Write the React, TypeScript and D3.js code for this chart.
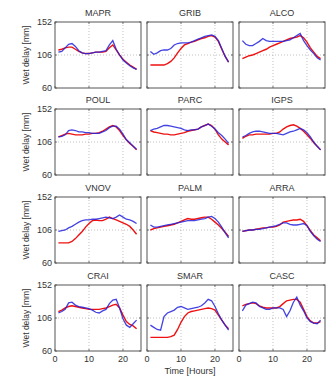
import React from "react";
import * as d3 from "d3";

const hours = d3.range(1, 25);
const stations = ["MAPR", "GRIB", "ALCO", "POUL", "PARC", "IGPS", "VNOV", "PALM", "ARRA", "CRAI", "SMAR", "CASC"];

// blue = first series, red = second series (mm), hourly 1..24
const blueSeries = [
  [110, 111, 116, 121, 122, 118, 112, 109, 108, 108, 109, 110, 110, 111, 112, 120, 126, 114, 106, 99, 95, 91, 88, 86],
  [111, 107, 109, 112, 113, 113, 115, 120, 122, 123, 123, 123, 124, 126, 128, 130, 132, 133, 134, 132, 126, 115, 104, 96],
  [126, 121, 119, 119, 122, 125, 129, 126, 125, 125, 125, 125, 125, 126, 127, 130, 133, 136, 126, 119, 113, 108, 102, 99],
  [113, 114, 116, 122, 123, 122, 120, 120, 119, 119, 118, 118, 118, 120, 122, 126, 128, 128, 124, 117, 109, 105, 100, 96],
  [122, 124, 125, 127, 129, 129, 128, 127, 126, 125, 123, 122, 123, 123, 124, 127, 129, 131, 128, 124, 119, 115, 110, 104],
  [113, 115, 118, 120, 121, 121, 120, 119, 118, 118, 118, 117, 116, 118, 120, 121, 123, 125, 123, 119, 113, 106, 100, 95],
  [104, 105, 106, 109, 111, 114, 117, 119, 120, 120, 121, 121, 122, 123, 124, 123, 122, 124, 127, 124, 121, 120, 118, 115],
  [113, 110, 110, 111, 112, 113, 114, 115, 116, 117, 118, 119, 119, 119, 120, 121, 122, 124, 125, 122, 117, 110, 102, 95],
  [104, 105, 106, 106, 107, 107, 108, 109, 110, 111, 112, 114, 116, 116, 114, 113, 113, 114, 115, 112, 104, 98, 93, 90],
  [113, 115, 118, 127, 128, 124, 122, 121, 120, 119, 117, 114, 113, 116, 118, 126, 131, 132, 120, 105, 96, 93, 98, 103],
  [96, 93, 90, 89, 108, 113, 115, 117, 121, 122, 120, 118, 119, 120, 121, 123, 127, 132, 130, 122, 112, 103, 96, 89],
  [116, 124, 126, 128, 127, 122, 120, 118, 118, 120, 120, 120, 118, 108, 116, 128, 135, 124, 116, 106, 101, 99, 98, 103],
];

const redSeries = [
  [113, 114, 116, 117, 117, 114, 111, 109, 108, 108, 109, 110, 110, 110, 111, 116, 120, 113, 106, 100, 96, 92, 89, 86],
  [92, 92, 92, 92, 92, 94, 97, 102, 109, 115, 120, 122, 124, 125, 127, 129, 130, 132, 133, 131, 125, 114, 104, 96],
  [101, 103, 105, 106, 108, 110, 112, 114, 117, 119, 121, 123, 125, 127, 129, 130, 131, 133, 130, 124, 116, 110, 104, 101],
  [113, 115, 117, 118, 117, 116, 116, 116, 117, 117, 118, 118, 119, 121, 124, 127, 129, 127, 122, 115, 109, 104, 100, 95],
  [122, 120, 119, 118, 117, 117, 116, 116, 117, 118, 119, 121, 122, 123, 124, 127, 129, 131, 129, 124, 116, 110, 106, 102],
  [111, 114, 116, 116, 117, 117, 117, 117, 117, 118, 118, 120, 124, 127, 129, 130, 128, 125, 121, 116, 111, 105, 100, 95],
  [88, 88, 88, 88, 90, 94, 99, 104, 110, 115, 119, 120, 119, 119, 121, 124, 122, 120, 118, 116, 114, 111, 106, 100],
  [106, 108, 109, 110, 111, 112, 113, 114, 116, 118, 120, 122, 121, 121, 122, 123, 124, 124, 121, 117, 113, 108, 103, 97],
  [104, 105, 106, 106, 107, 108, 109, 109, 110, 110, 111, 113, 117, 118, 119, 120, 120, 121, 118, 112, 105, 99, 95, 91],
  [115, 117, 120, 122, 123, 122, 121, 120, 119, 118, 118, 118, 118, 119, 120, 122, 124, 125, 120, 110, 101, 97, 95, 91],
  [79, 79, 79, 79, 79, 79, 80, 82, 90, 100, 108, 113, 115, 116, 117, 118, 119, 120, 119, 117, 110, 103, 96, 91],
  [123, 125, 126, 127, 126, 123, 121, 120, 120, 120, 120, 122, 126, 130, 131, 132, 132, 128, 118, 108, 102, 99, 99, 101],
];

const yTicks = [60, 106, 152];
const xTicks = [0, 10, 20];

const colLeft = [55, 147, 239];
const rowTop = [22, 109, 197, 285];
const pw = 86;
const ph = 66;
const font = "Arial, 'Liberation Sans', sans-serif";
const textColor = "#333";

export default function App() {
  const x = d3.scaleLinear().domain([0, 25.3]).range([0, pw]);
  const y = d3.scaleLinear().domain([60, 152]).range([ph, 0]);
  const line = d3
    .line<number>()
    .x((_, i) => x(hours[i]))
    .y((d) => y(d));

  return (
    <svg width={331} height={381} style={{ position: "absolute", left: 0, top: 0, background: "#fff" }}>
      {stations.map((name, k) => {
        const c = k % 3;
        const r = Math.floor(k / 3);
        const tx = colLeft[c];
        const ty = rowTop[r];
        return (
          <g key={name} transform={`translate(${tx},${ty})`}>
            <rect x={0} y={0} width={pw} height={ph} fill="#fff" />
            {xTicks.slice(1).map((t) => (
              <line key={t} x1={x(t)} x2={x(t)} y1={0} y2={ph} stroke="#999" strokeWidth={0.6} strokeDasharray="1,2" />
            ))}
            <line x1={0} x2={pw} y1={y(106)} y2={y(106)} stroke="#999" strokeWidth={0.6} strokeDasharray="1,2" />
            <path d={line(redSeries[k]) || ""} fill="none" stroke="#ee1111" strokeWidth={1.4} />
            <path d={line(blueSeries[k]) || ""} fill="none" stroke="#2222dd" strokeWidth={1.3} strokeOpacity={0.85} />
            <rect x={0} y={0} width={pw} height={ph} fill="none" stroke="#555" strokeWidth={1} />
            {yTicks.map((t) => (
              <g key={t}>
                <line x1={0} x2={2} y1={y(t)} y2={y(t)} stroke="#555" strokeWidth={0.8} />
                <line x1={pw - 2} x2={pw} y1={y(t)} y2={y(t)} stroke="#555" strokeWidth={0.8} />
              </g>
            ))}
            {xTicks.map((t) => (
              <g key={t}>
                <line x1={x(t)} x2={x(t)} y1={ph} y2={ph - 2} stroke="#555" strokeWidth={0.8} />
                <line x1={x(t)} x2={x(t)} y1={0} y2={2} stroke="#555" strokeWidth={0.8} />
              </g>
            ))}
            <text x={pw / 2} y={-6} textAnchor="middle" fontSize={9} fontFamily={font} fill={textColor}>
              {name}
            </text>
            {c === 0 &&
              yTicks.map((t) => (
                <text key={t} x={-3} y={y(t) + 3} textAnchor="end" fontSize={9} fontFamily={font} fill={textColor}>
                  {t}
                </text>
              ))}
            {c === 0 && (
              <text
                transform={`translate(-26,${ph / 2}) rotate(-90)`}
                textAnchor="middle"
                fontSize={8.5}
                fontFamily={font}
                fill={textColor}
              >
                Wet delay [mm]
              </text>
            )}
            {r === 3 &&
              xTicks.map((t) => (
                <text key={t} x={x(t)} y={ph + 11} textAnchor="middle" fontSize={9} fontFamily={font} fill={textColor}>
                  {t}
                </text>
              ))}
            {r === 3 && c === 1 && (
              <text x={pw / 2} y={ph + 23} textAnchor="middle" fontSize={9} fontFamily={font} fill={textColor}>
                Time [Hours]
              </text>
            )}
          </g>
        );
      })}
    </svg>
  );
}
